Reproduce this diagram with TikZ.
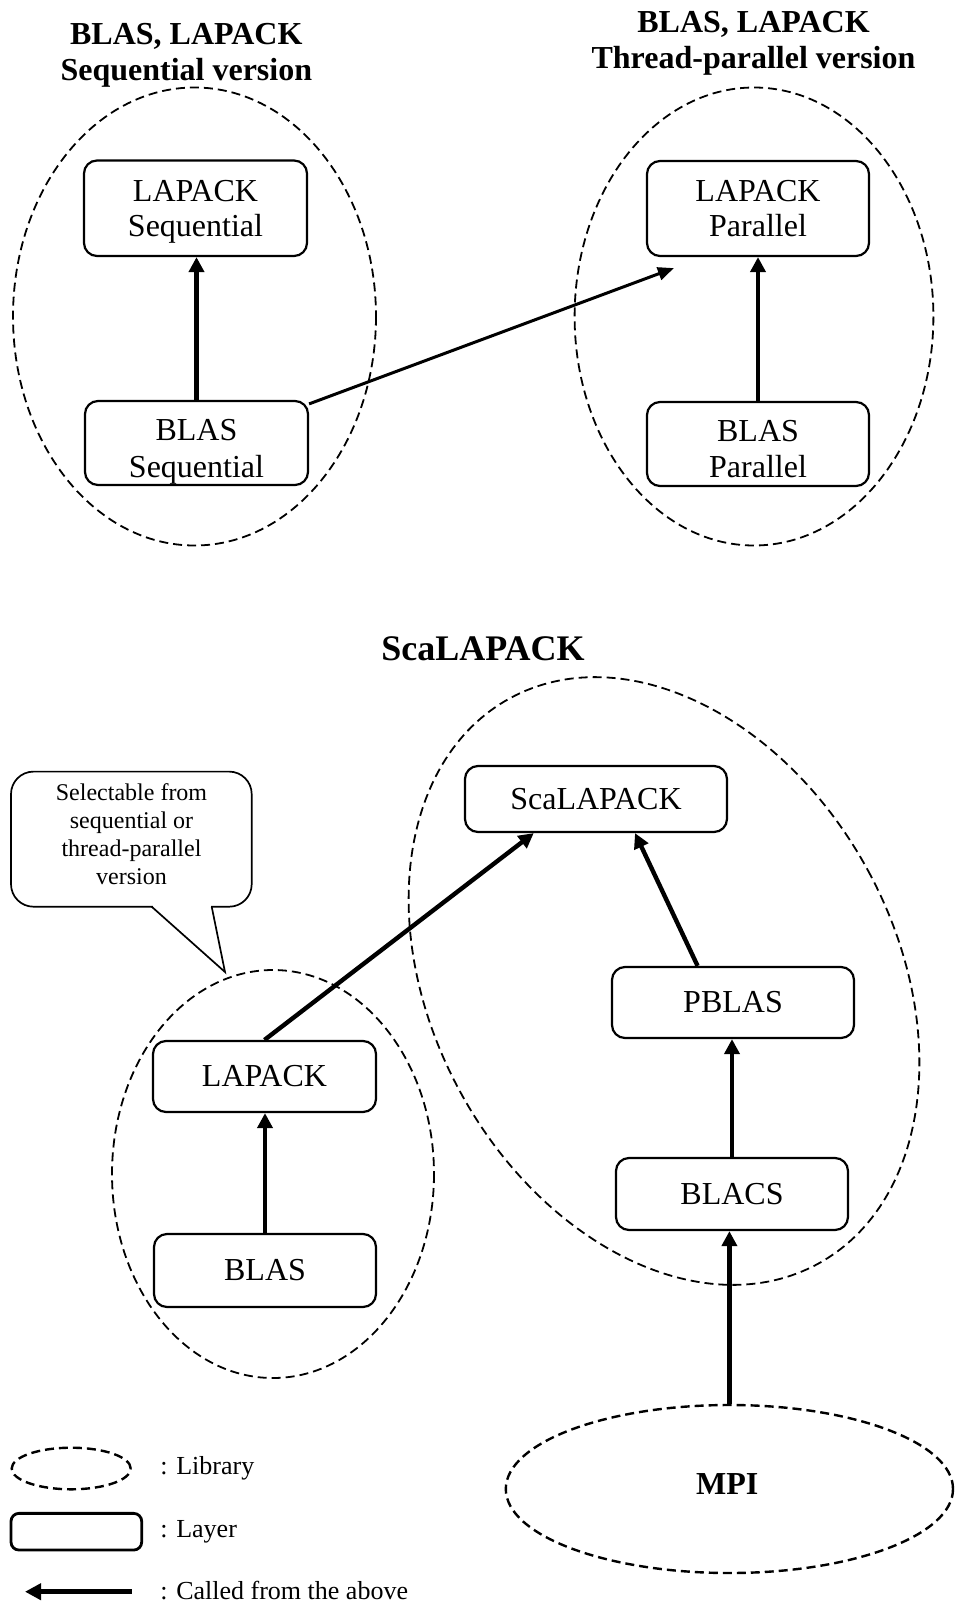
\documentclass[tikz,border=0pt]{standalone}
\usepackage{fontspec}
\setmainfont{Liberation Serif}
\usetikzlibrary{arrows.meta,shapes.geometric,calc}
\begin{document}
\begin{tikzpicture}[x=0.5pt,y=-0.5pt,
  layer/.style={draw, line width=1.1pt, rounded corners=6.5pt, inner sep=0pt, align=center, font=\fontsize{16}{17.8}\selectfont},
  boxtext/.style={draw=none, inner sep=0pt, align=center, font=\fontsize{16}{18.3}\selectfont},
  lib/.style={draw, dash pattern=on 4.5pt off 2.5pt, line width=0.9pt},
  libthick/.style={draw, dash pattern=on 4.5pt off 2.5pt, line width=1.2pt},
  call/.style={-{Triangle[length=7.5pt,width=7.5pt]}, line width=2.2pt},
  callthin/.style={-{Triangle[length=8pt,width=6.5pt]}, line width=1.5pt},
  titletext/.style={inner sep=0pt, align=center, font=\bfseries\fontsize{16}{18}\selectfont},
  legtext/.style={inner sep=0pt, anchor=base west, font=\fontsize{13}{15}\selectfont},
  calltext/.style={inner sep=0pt, align=center, font=\fontsize{12}{14.15}\selectfont},
]
\useasboundingbox[fill=white] (0,0) rectangle (955,1605);

% ---------- top part ----------
\node[titletext] (t1) at (186.3,51.6) {BLAS, LAPACK\\\smash{Sequential version}};
\node[titletext] (t2) at (753.5,40.4) {BLAS, LAPACK\\\smash{Thread-parallel version}};

\draw[lib] (194.5,316.5) ellipse [x radius=181.5, y radius=229];
\draw[lib] (754,316.5) ellipse [x radius=179.4, y radius=229];

\node[layer, minimum width=111.5pt, minimum height=47.75pt] (lseq) at (195.5,208.25) {LAPACK\\\smash{Sequential}};
\node[layer, minimum width=111pt, minimum height=47.5pt] (lpar) at (758,208.5) {LAPACK\\Parallel};
\node[layer, minimum width=111.5pt, minimum height=42pt,
  path picture={\node[boxtext] (bseqT) at ([yshift=-2.6pt]path picture bounding box.center) {BLAS\\\smash{Sequential}};}] (bseq) at (196.5,443) {};
\node[layer, minimum width=111pt, minimum height=42pt,
  path picture={\node[boxtext] (bparT) at ([yshift=-2.5pt]path picture bounding box.center) {BLAS\\Parallel};}] (bpar) at (758,444) {};

\draw[call] (bseq.north) -- (bseq.north |- lseq.south);
\draw[call] (bpar.north) -- (bpar.north |- lpar.south);
\draw[callthin] ([yshift=-2pt]bseq.north east) -- ($(lpar.south west)+(28,11)$);

% ---------- ScaLAPACK part ----------
\node[inner sep=0pt, font=\bfseries\fontsize{18}{20}\selectfont] (t3) at (483,648.4) {ScaLAPACK};

\draw[lib, rotate around={28.55:(664,981)}] (664,981) ellipse [x radius=232, y radius=322];
\draw[lib] (273,1174) ellipse [x radius=161, y radius=204];

\node[layer, minimum width=131pt, minimum height=33pt] (scal) at (596,799) {ScaLAPACK};
\node[layer, minimum width=121pt, minimum height=35.5pt] (pblas) at (733,1002.5) {PBLAS};
\node[layer, minimum width=116pt, minimum height=36pt] (blacs) at (732,1194) {BLACS};
\node[layer, minimum width=111.5pt, minimum height=35.5pt] (lap2) at (264.5,1076.5) {LAPACK};
\node[layer, minimum width=111pt, minimum height=36.5pt] (blas2) at (265,1270.5) {BLAS};

\node[ellipse, libthick, minimum width=223.6pt, minimum height=84pt, inner sep=0pt] (mpi) at (729.4,1489) {};
\node[inner sep=0pt, font=\bfseries\fontsize{16}{18}\selectfont] (mpiT) at (727.3,1484) {MPI};

\draw[call] (lap2.north) -- ($(scal.south west)!0.2644!(scal.south east)$);
\draw[call] ($(pblas.north west)!0.355!(pblas.north east)$) -- ($(scal.south west)!0.6476!(scal.south east)$);
\draw[call] (blacs.north) -- (blacs.north |- pblas.south);
\draw[call] (blas2.north) -- (blas2.north |- lap2.south);
\draw[call] (mpi.north) -- (mpi.north |- blacs.south);

% ---------- callout ----------
\draw[line width=0.85pt, rounded corners=11.25pt] (11,771.6) rectangle (251.7,906.7);
\fill[white] (153,902) rectangle (210.5,911);
\coordinate (tailL) at (151.7,906.7);
\coordinate (tailTip) at (225,972);
\coordinate (tailR) at (211.7,906.7);
\draw[line width=0.85pt, line join=miter] (tailL) -- (tailTip) -- (tailR);
\node[calltext] (callT) at (131.5,834.2) {Selectable from\\sequential or\\thread-parallel\\version};

% ---------- legend ----------
\node[ellipse, libthick, minimum width=59.5pt, minimum height=20.8pt, inner sep=0pt] (legLib) at (71.2,1468.5) {};
\node[draw, line width=1.4pt, rounded corners=4pt, minimum width=65.35pt, minimum height=18.35pt, inner sep=0pt] (legLay) at (76.35,1531.7) {};
\coordinate (legA) at (131.7,1591.7);
\coordinate (legB) at (25,1591.7);
\draw[line width=2.5pt, -{Triangle[length=8pt,width=8pt]}] (legA) -- (legB);
\node[legtext] (legLibT) at (160,1474) {: Library};
\node[legtext] (legLayT) at (160,1537.3) {: Layer};
\node[legtext] (legCallT) at (160,1599.3) {: Called from the above};
\end{tikzpicture}
\end{document}
